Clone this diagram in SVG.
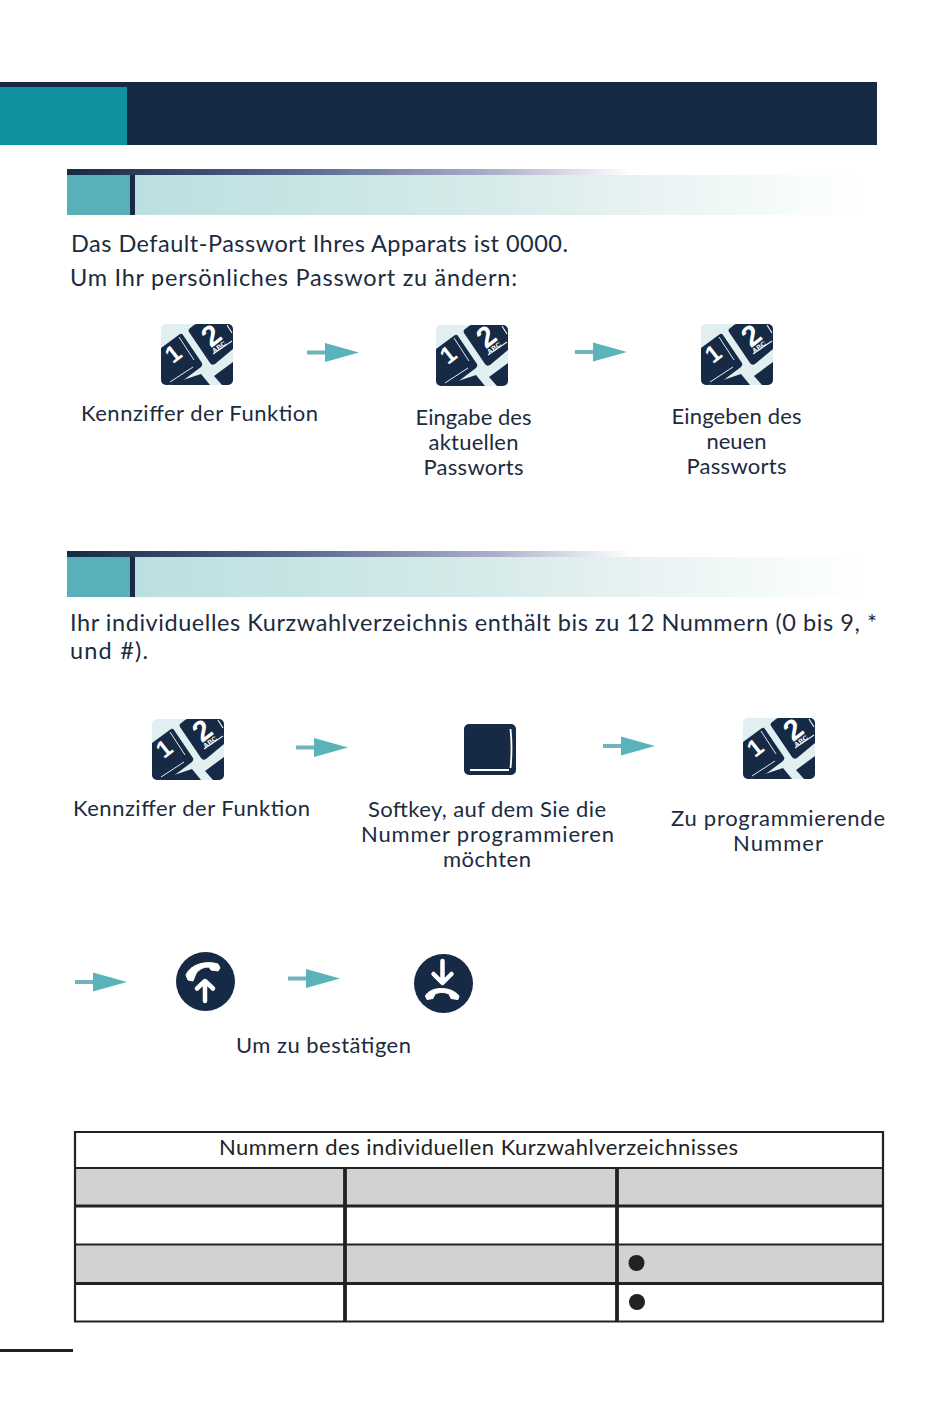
<svg xmlns="http://www.w3.org/2000/svg" width="950" height="1420" viewBox="0 0 950 1420">
<style>
text{font-family:"Lato","Open Sans","Liberation Sans",sans-serif;fill:#1c2b40}
.b{font-size:23.5px}
.l{font-size:22px}
.m{text-anchor:middle}
.k{fill:#162a46}
.tk{font-family:"Liberation Sans",sans-serif;font-weight:700;fill:#fff;text-anchor:middle}
.sw{fill:none;stroke:#fff;stroke-linecap:round;stroke-linejoin:round}
.tl{fill:none;stroke:#222;stroke-width:2.200}
.tt{fill:none;stroke:#222;stroke-width:3.200}
.gr{fill:#d2d2d2}
</style>
<defs>
<linearGradient id="topG"><stop offset="0" stop-color="#162a46"/><stop offset=".41" stop-color="#56688c"/><stop offset=".77" stop-color="#b0b2cc"/><stop offset="1" stop-color="#fff"/></linearGradient>
<linearGradient id="lowG"><stop offset="0" stop-color="#bbdfe1"/><stop offset=".5" stop-color="#d7ebea"/><stop offset=".68" stop-color="#e6f2f1"/><stop offset=".92" stop-color="#f8fcfc"/><stop offset="1" stop-color="#fff"/></linearGradient>
<g id="arrow"><rect x="0" y="-2" width="24" height="4" fill="#6fb3bb"/><path d="M18-9.500L52 0 18 9.500Z" fill="#5ab3ba"/></g>
<clipPath id="kc"><rect width="72" height="61" rx="5"/></clipPath>
<g id="keypad"><g clip-path="url(#kc)"><rect width="72" height="61" fill="#e1eff0"/>
<path class="k" d="M0 24L19 10Q21 9 22 11L41 39Q42 41 40 43L20 58 7 61H0Z"/>
<path class="k" d="M28 5L33 1 35 0H72V25L54 40Q51 42 49 39L28 8Q27 6 28 5Z"/>
<path class="k" d="M7 61L40 50 49 61Z"/>
<path class="k" d="M72 38L53 52 61 61H72Z"/>
<path d="M18 13L33 36M9 58L32 43" fill="none" stroke="#e1eff0" stroke-width="1"/>
<path d="M66 1L71 9M52 30L71 17" fill="none" stroke="#e1eff0" stroke-width="1.200"/>
<text class="tk" transform="translate(12 29.500) rotate(-38)" y="8.500" font-size="24">1</text>
<text class="tk" transform="translate(50 11) rotate(-38)" y="10.500" font-size="29">2</text>
<text class="tk" transform="translate(58 23) rotate(-36)" y="2.500" font-size="7">ABC</text>
</g></g>
</defs>

<g id="header"><rect x="0" y="82" width="877" height="63" fill="#162a46"/><rect x="0" y="87" width="127" height="58" fill="#12919f"/></g>

<g id="section-bar-1">
<rect x="67" y="169" width="563" height="6" fill="url(#topG)"/>
<rect x="135" y="175" width="725" height="40" fill="url(#lowG)"/>
<rect x="67" y="175" width="63" height="40" fill="#5ab0b8"/>
<rect x="130" y="175" width="5" height="40" fill="#162a46"/>
</g>
<g id="intro-1">
<text class="b" x="71" y="252" textLength="497">Das Default-Passwort Ihres Apparats ist 0000.</text>
<text class="b" x="70" y="286" textLength="447">Um Ihr persönliches Passwort zu ändern:</text>
</g>

<g id="step-1-1"><use href="#keypad" x="161" y="324"/><text class="l" x="81" y="421" textLength="237">Kennziffer der Funktion</text></g>
<g id="step-1-2"><use href="#keypad" x="436" y="325"/><text class="l m" x="473.500" y="425" textLength="116">Eingabe des</text><text class="l m" x="473.500" y="450" textLength="90">aktuellen</text><text class="l m" x="473.500" y="475" textLength="100">Passworts</text></g>
<g id="step-1-3"><use href="#keypad" x="701" y="324"/><text class="l m" x="736.500" y="424" textLength="130">Eingeben des</text><text class="l m" x="736.500" y="449" textLength="60">neuen</text><text class="l m" x="736.500" y="473.500" textLength="100">Passworts</text></g>

<g id="section-bar-2">
<rect x="67" y="551" width="563" height="6" fill="url(#topG)"/>
<rect x="135" y="557" width="725" height="40" fill="url(#lowG)"/>
<rect x="67" y="557" width="63" height="40" fill="#5ab0b8"/>
<rect x="130" y="557" width="5" height="40" fill="#162a46"/>
</g>
<g id="intro-2">
<text class="b" x="70" y="631" textLength="807">Ihr individuelles Kurzwahlverzeichnis enthält bis zu 12 Nummern (0 bis 9, *</text>
<text class="b" x="70" y="659" textLength="78">und #).</text>
</g>

<g id="step-2-1"><use href="#keypad" x="152" y="719"/><text class="l" x="73" y="816" textLength="237">Kennziffer der Funktion</text></g>
<g id="step-2-2">
<rect x="464" y="724" width="52" height="51" rx="5" class="k"/>
<path d="M510.500 729Q512.500 748 510.500 768" fill="none" stroke="#fff" stroke-width="1.800"/>
<path d="M470 770H509" stroke="#fff" stroke-width="2.200"/>
<text class="l m" x="487" y="817" textLength="238">Softkey, auf dem Sie die</text><text class="l m" x="487.500" y="842" textLength="253">Nummer programmieren</text><text class="l m" x="487" y="867" textLength="88">möchten</text>
</g>
<g id="step-2-3"><use href="#keypad" x="743" y="718"/><text class="l m" x="778" y="826" textLength="214">Zu programmierende</text><text class="l m" x="778" y="851" textLength="90">Nummer</text></g>

<g id="step-3-1">
<circle cx="205.500" cy="981.500" r="29.500" class="k"/>
<path d="M186 975C190 965 205 960 218 964L220 968 218 971 211 970 209 967C203 967 197 970 195 976L193 981 188 980Z" fill="#fff" stroke="#fff" stroke-width="1" stroke-linejoin="round"/>
<path class="sw" stroke-width="4.500" d="M205 1001V982M197 988.500L205 981 213 988.500"/>
</g>
<g id="step-3-2">
<circle cx="443.500" cy="983.500" r="29.500" class="k"/>
<path class="sw" stroke-width="4.500" d="M442.500 961V982M433.500 974L442.500 983 451.500 974"/>
<path d="M425.500 996C430 986 452 986 459 996L458 999.500 451 998.500 449 994C444 992 440 992 435 994L433 998.500 427 999.500Z" fill="#fff" stroke="#fff" stroke-width="1" stroke-linejoin="round"/>
</g>
<text id="confirm" class="l" x="236" y="1053" textLength="175">Um zu bestätigen</text>

<g id="table">
<rect class="gr" x="75" y="1168" width="808" height="38"/>
<rect class="gr" x="75" y="1245" width="808" height="38"/>
<path class="tl" d="M75 1132H883V1321.500H75Z"/>
<path class="tl" d="M75 1168H883M75 1244.500H883"/>
<path class="tt" d="M75 1206H883M75 1283.500H883"/>
<path d="M345 1168V1322M617 1168V1322" stroke="#222" stroke-width="3.800"/>
<text x="478.500" y="1155" class="m" font-size="22" style="fill:#222" textLength="519">Nummern des individuellen Kurzwahlverzeichnisses</text>
<circle cx="636.500" cy="1263" r="8" fill="#222"/>
<circle cx="637" cy="1302" r="8" fill="#222"/>
</g>
<rect id="footer-rule" x="0" y="1349" width="73" height="3" fill="#222"/>

<g id="connectors">
<use href="#arrow" x="307" y="352.500"/>
<use href="#arrow" x="575" y="352"/>
<use href="#arrow" x="296" y="747.500"/>
<use href="#arrow" x="603" y="746"/>
<use href="#arrow" x="75" y="982"/>
<use href="#arrow" x="288" y="978.500"/>
</g>
</svg>
